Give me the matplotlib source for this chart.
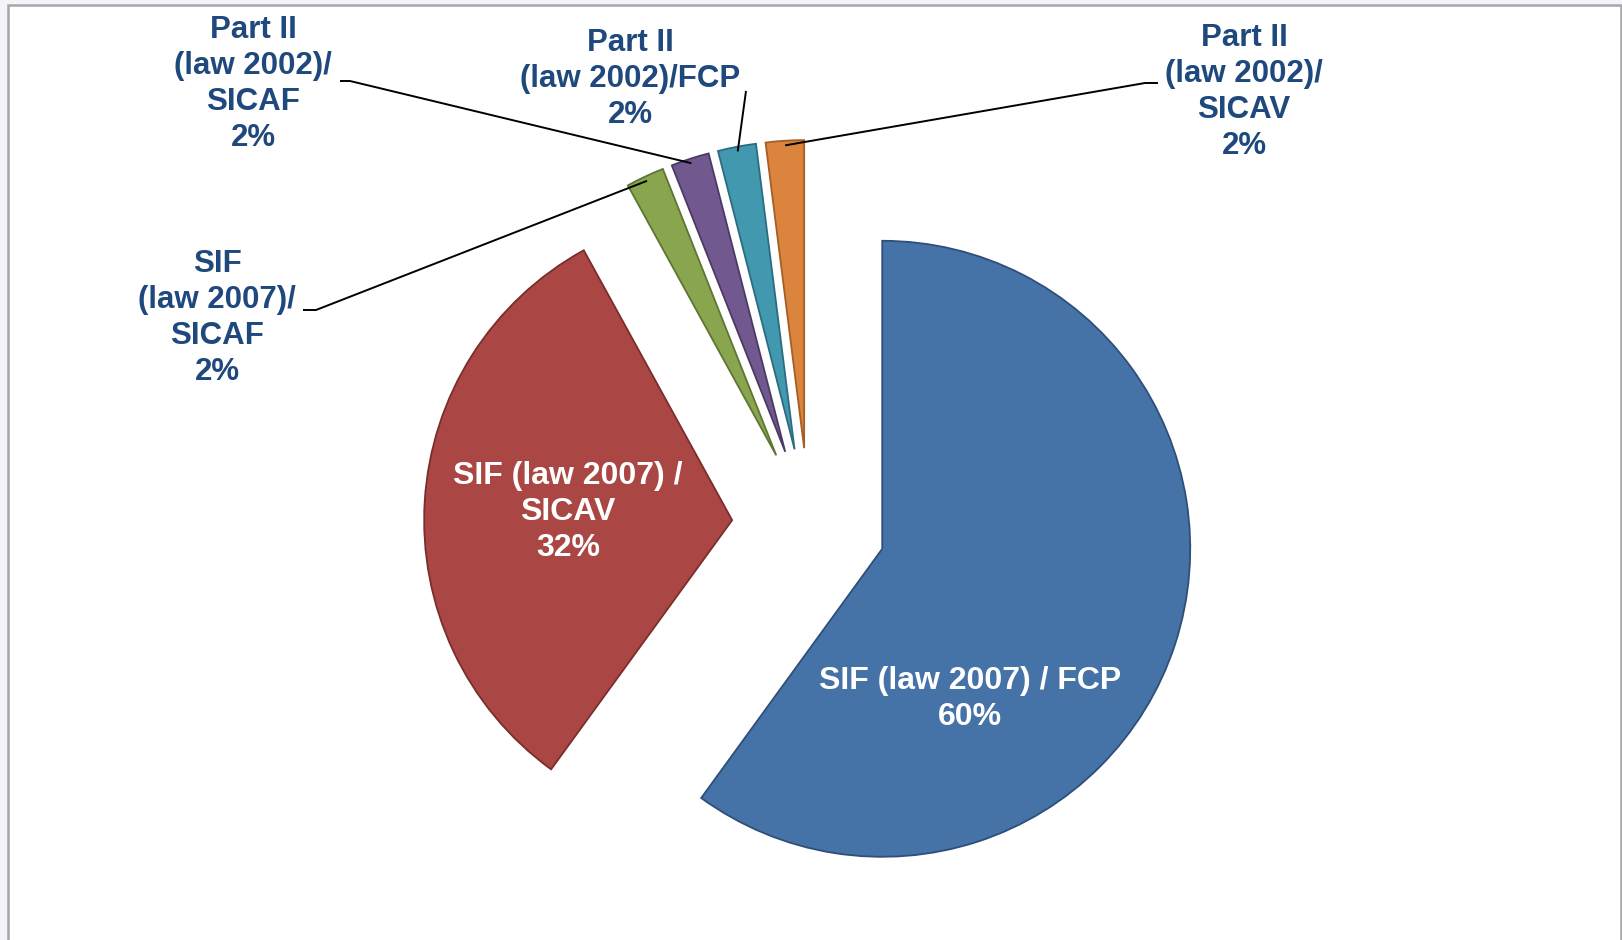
import matplotlib.pyplot as plt
import matplotlib.patches as mpatches
import numpy as np

plt.rcParams['font.family'] = ['Liberation Sans', 'DejaVu Sans']

labels = ["SIF (law 2007) / FCP",
          "SIF (law 2007) /\nSICAV",
          "SIF\n(law 2007)/\nSICAF",
          "Part II\n(law 2002)/\nSICAF",
          "Part II\n(law 2002)/FCP",
          "Part II\n(law 2002)/\nSICAV"]
shares = [60, 32, 2, 2, 2, 2]

colors = ["#4572A7", "#AA4643", "#89A54E", "#71588F", "#4198AF", "#DB843D"]
edges = ["#2E4F78", "#7A2E2C", "#5E7534", "#4C3A64", "#2B6D7F", "#A55E24"]

# layout in pixels of the 1622x940 image (y down)
W, H = 1622, 940
CX, CY, R = 809, 525, 308
label_px = [(970, 699), (568, 512), (217, 318), (253, 84), (630, 79), (1244, 92)]
inside = [True, True, False, False, False, False]
knees_px = [None, None,
            [(316, 310), (303, 310)],
            [(350, 81), (340, 81)],
            [(746, 91)],
            [(1145, 83), (1158, 83)]]


def to_data(px, py):
    return (px - CX) / R, (CY - py) / R


fig = plt.figure(figsize=(W / 100, H / 100), dpi=100, facecolor="#f2f4fa")
fig.add_artist(mpatches.Rectangle((8 / W, -0.01), (1621 - 8) / W, (H - 5) / H + 0.01,
                                  transform=fig.transFigure, facecolor="white",
                                  edgecolor="#a6a6a6", lw=1.8, zorder=0))
ax = fig.add_axes([0, 0, 1, 1])
ax.patch.set_alpha(0)

wedges, _ = ax.pie(shares, radius=1, explode=[0.25] * len(shares), startangle=90,
                   counterclock=False, colors=colors, wedgeprops=dict(linewidth=1.3))
for w, ec in zip(wedges, edges):
    w.set_edgecolor(ec)

for i, (w, lab, sh) in enumerate(zip(wedges, labels, shares)):
    tx, ty = to_data(*label_px[i])
    txt = f"{lab}\n{sh}%"
    if inside[i]:
        ax.text(tx, ty, txt, ha="center", va="center", fontsize=23, fontweight="bold",
                color="white", linespacing=1.25)
    else:
        ax.text(tx, ty, txt, ha="center", va="center", fontsize=22.5, fontweight="bold",
                color="#1F497D", linespacing=1.25)
        m = np.deg2rad((w.theta1 + w.theta2) / 2)
        x0 = w.center[0] + 0.985 * w.r * np.cos(m)
        y0 = w.center[1] + 0.985 * w.r * np.sin(m)
        pts = [(x0, y0)] + [to_data(*p) for p in knees_px[i]]
        xs, ys = zip(*pts)
        ax.plot(xs, ys, color="black", lw=1.4, solid_capstyle="butt")

ax.set_xlim(-CX / R, (W - CX) / R)
ax.set_ylim(-(H - CY) / R, CY / R)
ax.set_aspect("auto")
ax.axis("off")

fig.savefig("out.png", dpi=100, facecolor=fig.get_facecolor())
